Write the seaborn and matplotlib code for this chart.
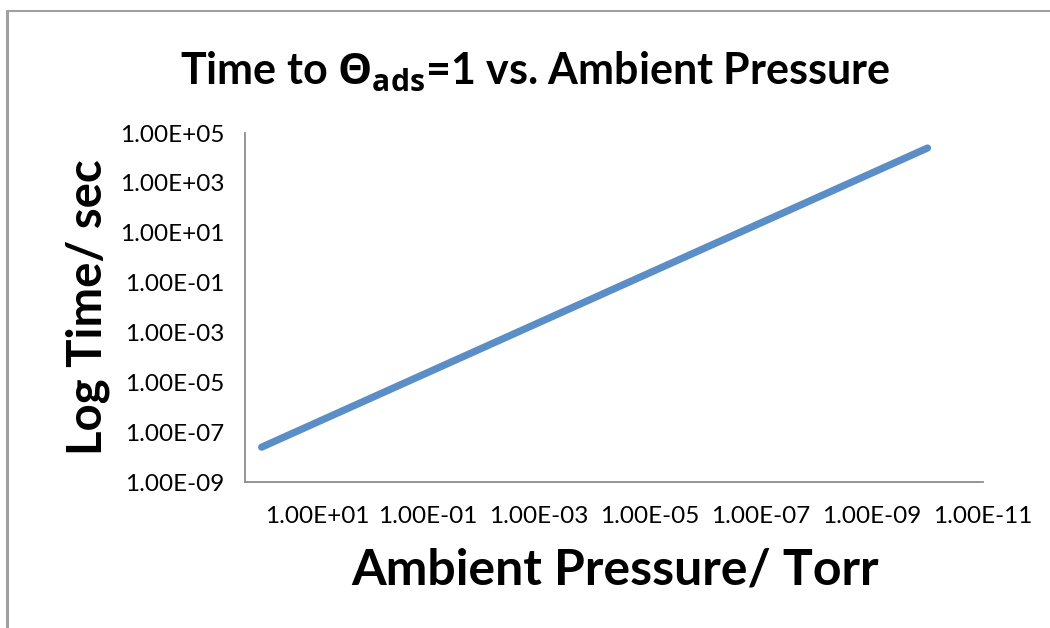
import matplotlib
matplotlib.use("Agg")
import matplotlib.pyplot as plt
from matplotlib.lines import Line2D
from matplotlib.ticker import FixedLocator, FuncFormatter, NullLocator
import seaborn as sns
import pandas as pd

# Ambient pressure (Torr) and time to reach monolayer coverage (s)
pressure_torr = [1e2, 1e1, 1e0, 1e-1, 1e-2, 1e-3, 1e-4, 1e-5, 1e-6, 1e-7, 1e-8, 1e-9, 1e-10]
time_sec = [2.5e-8, 2.5e-7, 2.5e-6, 2.5e-5, 2.5e-4, 2.5e-3, 2.5e-2, 2.5e-1, 2.5e0, 2.5e1, 2.5e2, 2.5e3, 2.5e4]

x_ticks = [1e1, 1e-1, 1e-3, 1e-5, 1e-7, 1e-9, 1e-11]
y_ticks = [1e-9, 1e-7, 1e-5, 1e-3, 1e-1, 1e1, 1e3, 1e5]

df = pd.DataFrame({"pressure": pressure_torr, "time": time_sec})

sns.set_theme(style="white")
plt.rcParams["font.family"] = ["Lato", "DejaVu Sans"]
plt.rcParams["text.color"] = "black"
plt.rcParams["axes.labelcolor"] = "black"
plt.rcParams["mathtext.fontset"] = "custom"
plt.rcParams["mathtext.rm"] = "Open Sans:bold"
plt.rcParams["mathtext.it"] = "Open Sans:bold"
plt.rcParams["mathtext.bf"] = "Open Sans:bold"

fig = plt.figure(figsize=(10.5, 6.28), dpi=100)
ax = fig.add_axes([245 / 1050, 1 - 482 / 628, (983 - 245) / 1050, (482 - 133) / 628])

sns.lineplot(data=df, x="pressure", y="time", ax=ax, color="#5B8EC6",
             linewidth=5.2, solid_capstyle="round")

ax.set_xscale("log")
ax.set_yscale("log")
ax.set_xlim(10 ** 2.3, 1e-11)
ax.set_ylim(1e-9, 1e5)

sci = FuncFormatter(lambda v, p: "{:.2E}".format(v))
ax.xaxis.set_major_locator(FixedLocator(x_ticks))
ax.yaxis.set_major_locator(FixedLocator(y_ticks))
ax.xaxis.set_minor_locator(NullLocator())
ax.yaxis.set_minor_locator(NullLocator())
ax.xaxis.set_major_formatter(sci)
ax.yaxis.set_major_formatter(sci)

axis_grey = "#8C8C8C"
for side in ("top", "right"):
    ax.spines[side].set_visible(False)
for side in ("left", "bottom"):
    ax.spines[side].set_color(axis_grey)
    ax.spines[side].set_linewidth(1.3)
ax.tick_params(axis="both", which="major", direction="out", length=6, width=1.3,
               color=axis_grey, labelcolor="black", labelsize=17.5)
ax.tick_params(axis="x", pad=11)
ax.tick_params(axis="y", pad=9)
ax.grid(False)

ax.set_xlabel("Ambient Pressure/ Torr", fontsize=36, fontweight="bold", color="black")
ax.set_ylabel("Log Time/ sec", fontsize=34, fontweight="bold", color="black")
ax.xaxis.label.set_va("center")
ax.yaxis.label.set_va("center")
ax.xaxis.set_label_coords(0.501, -0.252)
ax.yaxis.set_label_coords(-0.2127, 0.501)

fig.text(535 / 1050, 1 - 72 / 628,
         r"Time to $\Theta_{\mathrm{ads}}$=1 vs. Ambient Pressure",
         ha="center", va="center", fontsize=31, fontweight="bold", color="black")

# chart frame
fig.add_artist(Line2D([6.5 / 1050, 6.5 / 1050], [0, 1 - 11 / 628], color="#A0A0A0", lw=2.2,
                      transform=fig.transFigure))
fig.add_artist(Line2D([6.5 / 1050, 1], [1 - 11 / 628, 1 - 11 / 628], color="#A0A0A0", lw=1.5,
                      transform=fig.transFigure))

fig.savefig("out.png", dpi=100)
